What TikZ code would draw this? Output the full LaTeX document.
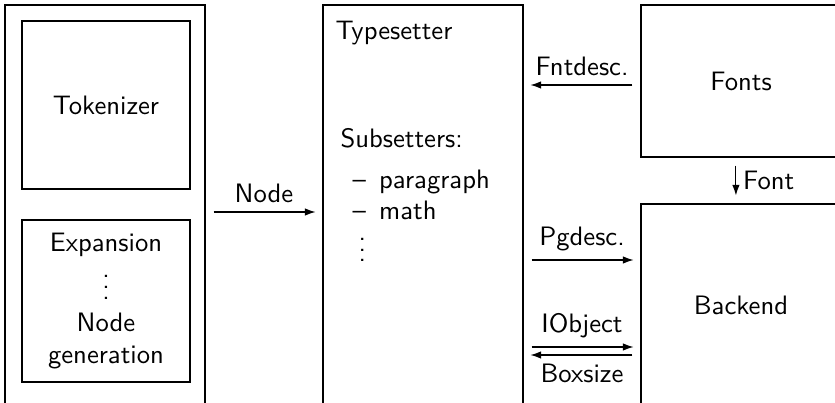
\documentclass[tikz,border=0pt]{standalone}
\usetikzlibrary{arrows.meta}
\renewcommand{\familydefault}{\sfdefault}

\tikzset{
  box/.style={draw, inner sep=0pt, align=center},
  lbl/.style={inner sep=0pt, anchor=base west},
  arr/.style={-{Latex[length=4pt,width=2.8pt]}, shorten <=3pt, shorten >=2.6pt},
}

\begin{document}
\begin{tikzpicture}[x=0.375pt,y=-0.375pt]
    \useasboundingbox (0,0) rectangle (835,403);
    \clip (0,0) rectangle (835,403);
    % outer blocks
    \node [box, minimum width=75pt, minimum height=150.75pt] (parser) at (105,206) {};
    \node [box, minimum width=75pt, minimum height=150.75pt] (typeset) at (423,206) {};
    \node [box, minimum width=75pt, minimum height=57pt] (fonts) at (741,81) {Fonts};
    \node [box, minimum width=75pt, minimum height=76.125pt] (backend) at (741,305.5) {Backend};
    % parser parts
    \node [box, minimum width=63pt, minimum height=63pt] (token) at (106,105) {Tokenizer};
    \node [box, minimum width=63pt, minimum height=60.75pt] (expand) at (106,301) {Expansion\\$\vdots$\\Node\\generation};
    % typesetter text
    \node [lbl] (tstitle) at (335,40) {Typesetter};
    \node [lbl] (subs) at (340,148) {Subsetters:};
    \node [lbl] (para) at (352,188) {--\hspace{5pt}paragraph};
    \node [lbl] (math) at (352,220) {--\hspace{5pt}math};
    \node [lbl] (more) at (358,262) {$\vdots$};
    % arrow levels
    \coordinate (yNode) at (0,212);
    \coordinate (yFnt) at (0,85);
    \coordinate (yPg) at (0,260);
    \coordinate (yObj) at (0,347);
    \coordinate (yBox) at (0,355);
    \draw [arr] (parser.east |- yNode) -- node [above] {Node} (typeset.west |- yNode);
    \draw [arr] (fonts.west |- yFnt) -- node [above] {Fntdesc.} (typeset.east |- yFnt);
    \draw [arr] (typeset.east |- yPg) -- node [above] {Pgdesc.} (backend.west |- yPg);
    \draw [arr] (typeset.east |- yObj) -- node [above] {IObject} (backend.west |- yObj);
    \draw [arr] (backend.west |- yBox) -- node [below] {Boxsize} (typeset.east |- yBox);
    \draw [arr, shorten >=3pt] ([xshift=-1.9pt]fonts.south) -- node [right, inner sep=2.5pt] {Font} ([xshift=-1.9pt]backend.north);
\end{tikzpicture}
\end{document}
